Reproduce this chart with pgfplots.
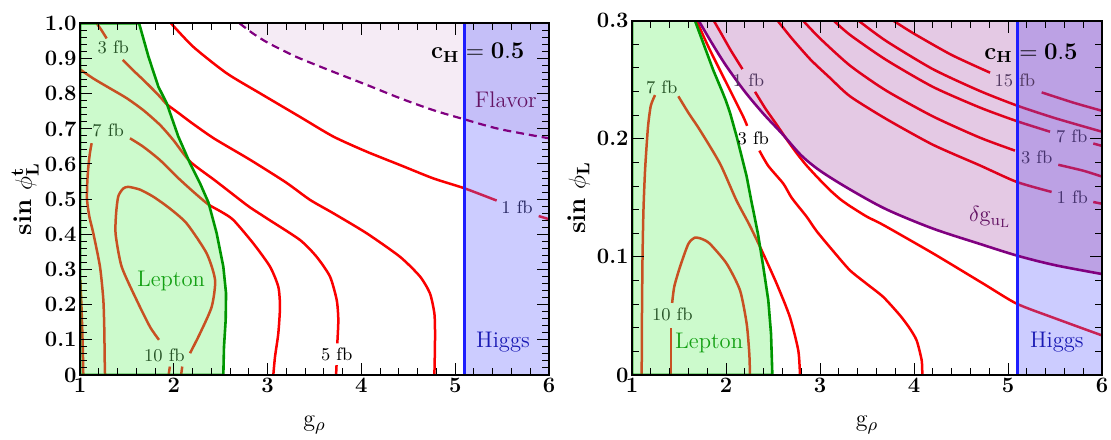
\documentclass[border=0pt]{standalone}
\usepackage{pgfplots}
\pgfplotsset{compat=1.18}
\definecolor{lepfill}{RGB}{102,240,102}
\definecolor{higfill}{RGB}{102,102,255}
\definecolor{purp}{RGB}{128,0,128}
\definecolor{lepline}{RGB}{0,150,0}
\definecolor{higline}{RGB}{30,30,255}
\definecolor{cred}{RGB}{250,0,0}
\definecolor{leptxt}{RGB}{20,160,20}
\definecolor{higtxt}{RGB}{25,25,180}
\definecolor{flavtxt}{RGB}{100,20,100}
\definecolor{lablep}{RGB}{40,85,40}
\definecolor{labhig}{RGB}{40,40,100}
\definecolor{labdg}{RGB}{80,55,95}
\definecolor{labov}{RGB}{70,50,110}
\tikzset{
  lab/.style={font=\fontsize{9}{10}\selectfont, inner sep=0pt},
  big/.style={font=\fontsize{11.3}{13}\selectfont, inner sep=0pt}
}
\pgfplotsset{
  myax/.style={scale only axis, anchor=south west, xmin=1, xmax=6,
    axis on top, axis line style={line width=0.9pt},
    every tick/.style={black, line width=0.5pt},
    major tick length=6pt, minor tick length=3.5pt, tick align=inside,
    xtick={1,2,3,4,5,6}, xticklabels={1,2,3,4,5,6},
    minor x tick num=4, minor y tick num=4, scaled ticks=false,
    tick label style={font=\fontsize{11}{13}\selectfont\bfseries, inner sep=1.5pt},
    xlabel={$\mathrm{g}_\rho$},
    xlabel style={font=\fontsize{13}{15}\selectfont, anchor=center},
    ylabel style={font=\fontsize{13}{15}\selectfont, anchor=center}},
  cont/.style={color=cred, line width=1.25pt, smooth, tension=0.4, mark=none},
  ovl/.style={draw=none, mark=none}
}
\begin{document}
\begin{tikzpicture}
\path[use as bounding box] (0,0) rectangle (555.5pt,219.5pt);
% ================= LEFT =================
\begin{axis}[myax, at={(40pt,32pt)}, width=234.5pt, height=175.85pt,
  ymin=0, ymax=1,
  ytick={0,0.1,0.2,0.3,0.4,0.5,0.6,0.7,0.8,0.9,1.0},
  yticklabels={0,0.1,0.2,0.3,0.4,0.5,0.6,0.7,0.8,0.9,1.0},
  ylabel={\textbf{sin} $\phi_{\mathbf{L}}^{\mathbf{t}}$},
  xlabel style={at={(axis description cs:0.5,-0.142)}},
  ylabel style={at={(axis description cs:-0.117,0.5)}}]
% contours
\addplot[cont] coordinates {(1.97,1.0) (2.208,0.933) (2.563,0.858) (2.919,0.801) (3.345,0.734) (3.70,0.678) (4.056,0.635) (4.412,0.597) (4.767,0.559) (5.097,0.531) (5.442,0.496)};
\addplot[cont] coordinates {(5.89,0.452) (6.0,0.443)};
\addplot[cont] coordinates {(1.178,1.0) (1.23,0.98) (1.284,0.957)};
\addplot[cont] coordinates {(1.455,0.896) (1.56,0.868) (1.675,0.839) (1.77,0.814) (1.853,0.791) (1.924,0.770) (2.05,0.745) (2.2,0.715) (2.432,0.672) (2.813,0.612) (3.193,0.548) (3.452,0.498) (3.70,0.460) (4.056,0.403) (4.412,0.336) (4.625,0.28) (4.731,0.232) (4.778,0.175) (4.785,0.118) (4.782,0.05) (4.778,0)};
\addplot[cont] coordinates {(1.0,0.869) (1.142,0.843) (1.32,0.815) (1.498,0.787) (1.675,0.753) (1.853,0.711) (1.995,0.668) (2.173,0.607) (2.44,0.553) (2.706,0.498) (2.81,0.477) (3.0,0.444) (3.345,0.384) (3.523,0.336) (3.665,0.28) (3.737,0.213) (3.754,0.156) (3.743,0.09)};
\addplot[cont] coordinates {(3.735,0.028) (3.73,0)};
\addplot[cont] coordinates {(1.267,0) (1.262,0.06) (1.26,0.118) (1.249,0.213) (1.213,0.308) (1.142,0.403) (1.10,0.45) (1.075,0.498) (1.078,0.55) (1.089,0.592) (1.105,0.63) (1.124,0.659)};
\addplot[cont] coordinates {(1.533,0.673) (1.675,0.649) (1.853,0.611) (2.031,0.564) (2.208,0.521) (2.368,0.485) (2.5,0.465) (2.634,0.441) (2.848,0.374) (3.026,0.308) (3.114,0.251) (3.132,0.194) (3.114,0.118) (3.079,0.052) (3.061,0)};
\addplot[cont] coordinates {(1.003,0.27) (1.015,0.2) (1.025,0.12) (1.032,0.05) (1.035,0)};
\addplot[cont] coordinates {(1.842,0.1) (1.746,0.137) (1.604,0.213) (1.444,0.308) (1.38,0.4) (1.385,0.46) (1.408,0.508) (1.46,0.53) (1.515,0.535) (1.64,0.527) (1.781,0.507) (1.95,0.475) (2.137,0.431) (2.35,0.346) (2.44,0.27) (2.404,0.194) (2.279,0.118) (2.173,0.062)};
\addplot[cont] coordinates {(1.958,0.024) (1.945,0)};
\addplot[cont] coordinates {(2.09,0.024) (2.078,0)};
% overlays
\addplot[ovl, fill=lepfill, fill opacity=0.333] coordinates {(1,0) (1,1) (1.63,1.0) (1.73,0.905) (1.835,0.82) (1.924,0.773) (2.048,0.678) (2.173,0.602) (2.28,0.545) (2.37,0.49) (2.457,0.403) (2.528,0.308) (2.557,0.232) (2.553,0.156) (2.535,0.08) (2.528,0) (1,0)};
\addplot[ovl, fill=purp, fill opacity=0.08] coordinates {(2.70,1.0) (2.85,0.97) (3.0,0.945) (3.2,0.918) (3.345,0.9) (3.70,0.862) (4.056,0.825) (4.412,0.787) (4.767,0.753) (5.097,0.727) (5.478,0.699) (6.0,0.673) (6,1) (2.70,1.0)};
\addplot[ovl, fill=higfill, fill opacity=0.333] coordinates {(5.1,0) (5.1,1) (6,1) (6,0) (5.1,0)};
% borders
\addplot[purp, line width=1.1pt, dash pattern=on 4pt off 2.5pt, smooth] coordinates {(2.70,1.0) (2.85,0.97) (3.0,0.945) (3.2,0.918) (3.345,0.9) (3.70,0.862) (4.056,0.825) (4.412,0.787) (4.767,0.753) (5.097,0.727) (5.478,0.699) (6.0,0.673)};
\addplot[lepline, line width=1.3pt] coordinates {(1,0) (1,1) (1.63,1.0) (1.73,0.905) (1.835,0.82) (1.924,0.773) (2.048,0.678) (2.173,0.602) (2.28,0.545) (2.37,0.49) (2.457,0.403) (2.528,0.308) (2.557,0.232) (2.553,0.156) (2.535,0.08) (2.528,0) (1,0)};
\addplot[higline, line width=1.4pt] coordinates {(5.1,0) (5.1,1)};
% labels
\node[lab, text=lablep] at (axis cs:1.355,0.932) {3 fb};
\node[lab, text=lablep] at (axis cs:1.30,0.697) {7 fb};
\node[lab, text=lablep] at (axis cs:1.90,0.055) {10 fb};
\node[lab, text=black] at (axis cs:3.737,0.06) {5 fb};
\node[lab, text=labhig] at (axis cs:5.66,0.476) {1 fb};
\node[big, text=leptxt] at (axis cs:1.97,0.267) {Lepton};
\node[big, text=higtxt] at (axis cs:5.51,0.094) {Higgs};
\node[big, text=flavtxt] at (axis cs:5.54,0.782) {Flavor};
\node[font=\fontsize{11.5}{13}\selectfont, inner sep=0pt] at (axis cs:5.24,0.916) {$\mathbf{c}_{\mathbf{H}} = \mathbf{0.5}$};
\end{axis}
% ================= RIGHT =================
\begin{axis}[myax, at={(316pt,32pt)}, width=235pt, height=177.15pt,
  ymin=0, ymax=0.3,
  ytick={0,0.1,0.2,0.3}, yticklabels={0,0.1,0.2,0.3},
  ylabel={\textbf{sin} $\phi_{\mathbf{L}}$},
  xlabel style={at={(axis description cs:0.5,-0.141)}},
  ylabel style={at={(axis description cs:-0.113,0.5)}}]
% contours
\addplot[cont] coordinates {(1.103,0) (1.106,0.05) (1.112,0.1) (1.122,0.14) (1.14,0.175) (1.17,0.21) (1.2,0.228) (1.245,0.237)};
\addplot[cont] coordinates {(1.493,0.236) (1.6,0.222) (1.723,0.2073) (1.936,0.179) (2.11,0.148) (2.25,0.127) (2.379,0.1056) (2.539,0.0773) (2.68,0.049) (2.769,0.0208) (2.787,0)};
\addplot[cont] coordinates {(1.415,0) (1.415,0.04)};
\addplot[cont] coordinates {(1.427,0.061) (1.45,0.075) (1.51,0.0914) (1.599,0.111) (1.67,0.1163) (1.75,0.115) (1.83,0.111) (2.007,0.0943) (2.149,0.0717) (2.22,0.0434) (2.248,0.018) (2.255,0)};
\addplot[cont] coordinates {(1.688,0.3) (1.76,0.287) (1.83,0.275) (1.971,0.2525) (2.078,0.2356) (2.184,0.2186) (2.225,0.211)};
\addplot[cont] coordinates {(2.355,0.19) (2.45,0.177) (2.61,0.162) (2.699,0.15) (2.858,0.134) (2.965,0.1217) (3.15,0.104) (3.319,0.0886) (3.5,0.077) (3.674,0.066) (3.851,0.0505) (3.95,0.04) (4.028,0.0293) (4.082,0.0123) (4.088,0)};
\addplot[cont] coordinates {(1.87,0.3) (1.95,0.289) (2.05,0.275) (2.175,0.259)};
\addplot[cont] coordinates {(2.309,0.2398) (2.42,0.2255) (2.539,0.212) (2.65,0.199) (2.75,0.188) (2.85,0.178) (2.965,0.168) (3.1,0.157) (3.213,0.149) (3.319,0.143) (3.5,0.134) (3.674,0.127) (4.206,0.1028) (4.738,0.0773) (5.092,0.0604) (5.5,0.048) (6,0.0335)};
\addplot[cont] coordinates {(2.549,0.3) (2.7,0.285) (2.9,0.267) (3.1,0.252) (3.319,0.236) (3.7,0.217) (4.2,0.195) (4.7,0.1775) (5.092,0.1635) (5.464,0.155)};
\addplot[cont] coordinates {(5.907,0.1465) (6,0.145)};
\addplot[cont] coordinates {(2.82,0.3) (3.0,0.285) (3.319,0.262) (3.7,0.241) (4.2,0.219) (4.7,0.201) (5.074,0.19)};
\addplot[cont] coordinates {(5.535,0.178) (5.8,0.173) (6,0.168)};
\addplot[cont] coordinates {(3.146,0.3) (3.319,0.288) (3.7,0.267) (4.2,0.244) (4.7,0.2265) (5.092,0.215) (5.447,0.206)};
\addplot[cont] coordinates {(5.907,0.196) (6,0.194)};
\addplot[cont] coordinates {(3.41,0.3) (3.7,0.283) (4.2,0.259) (4.7,0.2405) (5.1,0.228) (5.5,0.2175) (6,0.206)};
\addplot[cont] coordinates {(3.78,0.3) (4.0,0.289) (4.4,0.271) (4.809,0.256)};
\addplot[cont] coordinates {(5.358,0.2393) (5.7,0.2305) (6,0.2237)};
% overlays
\addplot[ovl, fill=lepfill, fill opacity=0.333] coordinates {(1,0) (1,0.3) (1.67,0.3) (1.758,0.281) (1.865,0.258) (1.96,0.24) (2.0,0.232) (2.043,0.222) (2.114,0.2017) (2.22,0.168) (2.268,0.148) (2.339,0.12) (2.397,0.0914) (2.45,0.0632) (2.479,0.035) (2.493,0) (1,0)};
\addplot[ovl, fill=higfill, fill opacity=0.333] coordinates {(5.1,0) (5.1,0.3) (6,0.3) (6,0) (5.1,0)};
\addplot[ovl, fill=purp, fill opacity=0.21] coordinates {(1.71,0.3) (1.85,0.281) (2.0,0.262) (2.2,0.240) (2.4,0.221) (2.6,0.204) (2.8,0.186) (3.0,0.173) (3.3,0.158) (3.7,0.1405) (4.2,0.124) (4.7,0.111) (5.1,0.101) (5.5,0.093) (6.0,0.0855) (6,0.3) (1.71,0.3)};
% borders
\addplot[purp, line width=1.3pt, smooth] coordinates {(1.71,0.3) (1.85,0.281) (2.0,0.262) (2.2,0.240) (2.4,0.221) (2.6,0.204) (2.8,0.186) (3.0,0.173) (3.3,0.158) (3.7,0.1405) (4.2,0.124) (4.7,0.111) (5.1,0.101) (5.5,0.093) (6.0,0.0855)};
\addplot[lepline, line width=1.3pt] coordinates {(1,0) (1,0.3) (1.67,0.3) (1.758,0.281) (1.865,0.258) (1.96,0.24) (2.0,0.232) (2.043,0.222) (2.114,0.2017) (2.22,0.168) (2.268,0.148) (2.339,0.12) (2.397,0.0914) (2.45,0.0632) (2.479,0.035) (2.493,0) (1,0)};
\addplot[higline, line width=1.4pt] coordinates {(5.1,0) (5.1,0.3)};
% labels
\node[lab, text=lablep] at (axis cs:1.316,0.2435) {7 fb};
\node[lab, text=lablep] at (axis cs:1.429,0.051) {10 fb};
\node[lab, text=labdg] at (axis cs:2.24,0.2497) {1 fb};
\node[lab, text=black] at (axis cs:2.29,0.2) {3 fb};
\node[lab, text=labdg] at (axis cs:5.074,0.2497) {15 fb};
\node[lab, text=labov] at (axis cs:5.678,0.2017) {7 fb};
\node[lab, text=labov] at (axis cs:5.305,0.1847) {3 fb};
\node[lab, text=labov] at (axis cs:5.684,0.1508) {1 fb};
\node[big, text=leptxt] at (axis cs:1.82,0.0275) {Lepton};
\node[big, text=higtxt] at (axis cs:5.52,0.0275) {Higgs};
\node[big, text=flavtxt] at (axis cs:4.81,0.1335) {$\delta\mathrm{g}_{\mathrm{u}_{\mathrm{L}}}$};
\node[font=\fontsize{11.5}{13}\selectfont, inner sep=0pt] at (axis cs:5.245,0.2725) {$\mathbf{c}_{\mathbf{H}} = \mathbf{0.5}$};
\end{axis}
\end{tikzpicture}
\end{document}
